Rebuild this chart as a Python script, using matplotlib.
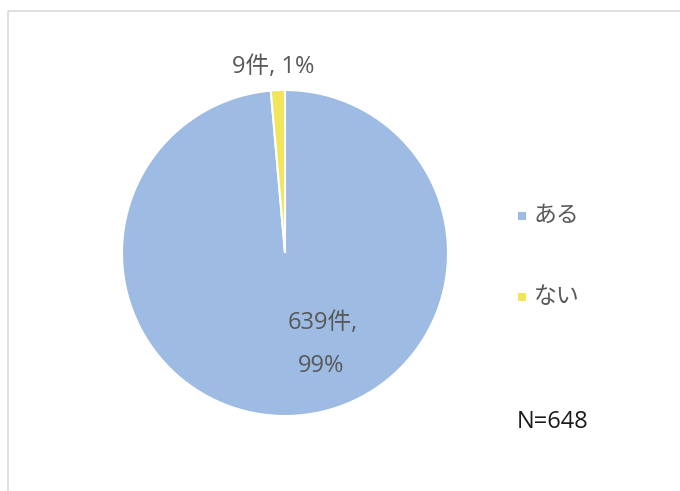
import matplotlib.pyplot as plt
from matplotlib.patches import Rectangle

plt.rcParams['font.family'] = ['Open Sans', 'Noto Sans CJK JP', 'DejaVu Sans']

categories = ['ある', 'ない']
counts = [639, 9]
percents = [99, 1]
colors = ['#9dbbe3', '#f3e55a']
total_n = 648

W, H = 680, 491
fig = plt.figure(figsize=(W / 100, H / 100), dpi=100)
ax = fig.add_axes([0, 0, 1, 1])

# Pie (y axis is flipped below, so counterclock=True draws clockwise on screen)
cx, cy, r = 285, 253, 163
ax.pie(counts, colors=colors, startangle=-90, counterclock=True,
       center=(cx, cy), radius=r, frame=True,
       wedgeprops=dict(edgecolor='white', linewidth=1.5))
ax.set_xlim(0, W)
ax.set_ylim(H, 0)
ax.set_aspect('equal')
ax.axis('off')

# Chart frame
ax.add_patch(Rectangle((8, 11), 700, 500, fill=False, edgecolor='#d9d9d9', lw=1.2))

# Data labels
label_color = '#595959'
fs = 17
ax.text(323, 323, f'{counts[0]}件,', ha='center', va='center',
        fontsize=fs, color=label_color)
ax.text(321, 366, f'{percents[0]}%', ha='center', va='center',
        fontsize=fs, color=label_color)
ax.text(273, 67, f'{counts[1]}件, {percents[1]}%', ha='center', va='center',
        fontsize=fs, color=label_color)

# Legend
for i, (cat, col) in enumerate(zip(categories, colors)):
    y = 216 + i * 81
    ax.add_patch(Rectangle((518, y - 4), 8, 8, facecolor=col, edgecolor='none'))
    ax.text(534, y, cat, ha='left', va='center', fontsize=fs - 0.5, color=label_color)

ax.text(553, 422, f'N={total_n}', ha='center', va='center',
        fontsize=fs, color='#1a1a1a')

fig.savefig('out.png', dpi=100)
